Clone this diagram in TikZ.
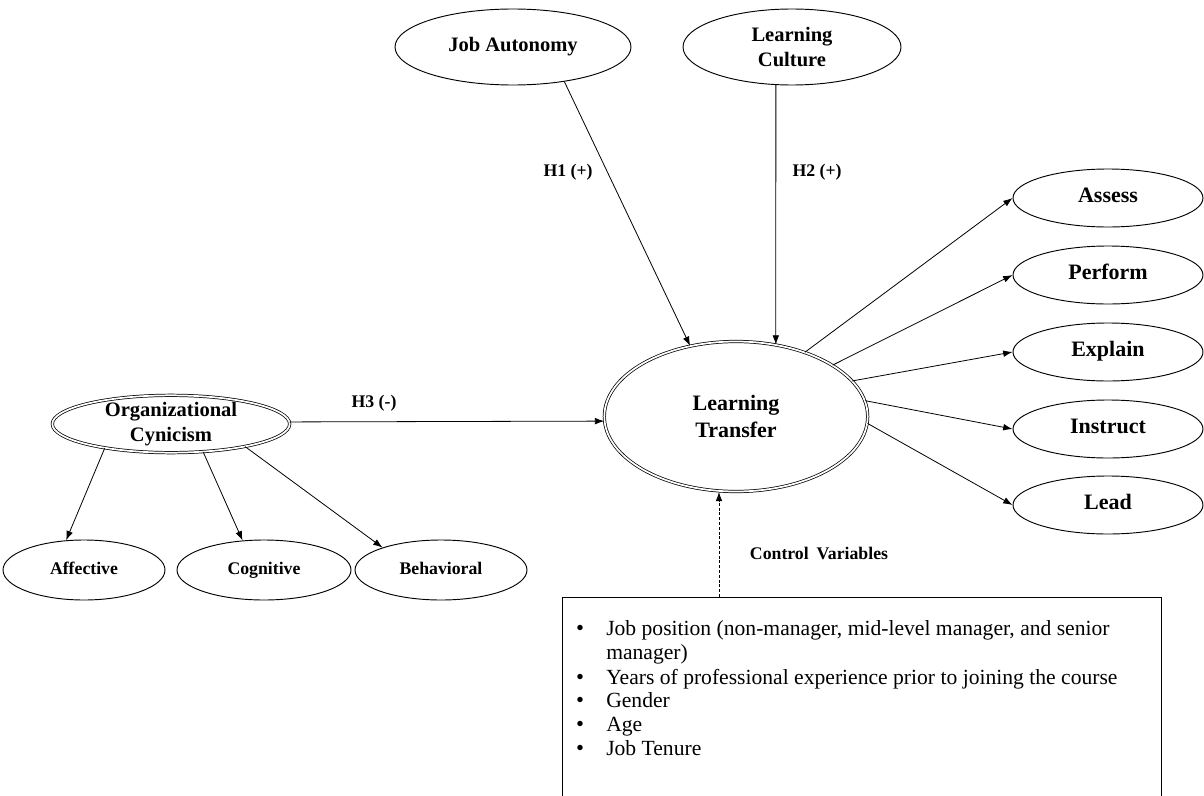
\documentclass[tikz,border=0pt]{standalone}
\usepackage{fontspec}
\setmainfont{Liberation Serif}
\usetikzlibrary{shapes.geometric,arrows.meta}
\begin{document}
\begin{tikzpicture}[x=0.75pt,y=-0.75pt,
  ell/.style={draw, ellipse, inner sep=0pt, line width=0.7pt, align=center},
  dbl/.style={draw, ellipse, inner sep=0pt, double, double distance=1.3pt, line width=0.55pt, align=center},
  conn/.style={-{Latex[length=7pt,width=5pt]}, line width=0.6pt},
  hlbl/.style={font=\bfseries\fontsize{13.3}{16}\selectfont, inner sep=0pt},
  bigtxt/.style={font=\bfseries\fontsize{16.5}{20.25}\selectfont},
  midtxt/.style={font=\bfseries\fontsize{15.4}{18.5}\selectfont},
  smalltxt/.style={font=\bfseries\fontsize{13.3}{16}\selectfont},
  oneline/.style={text height=0.66em, text depth=0pt},
  bullettxt/.style={font=\fontsize{16.2}{18}\selectfont, inner sep=0pt, anchor=base west},
  bulletdot/.style={font=\fontsize{17}{18}\selectfont, inner sep=0pt, anchor=base},
]
\useasboundingbox (0,0) rectangle (1204,796);
\fill[white] (0,0) rectangle (1204,796);

% top constructs
\node[ell, midtxt, oneline, minimum width=177pt, minimum height=57pt] (ja) at (513,47) {Job Autonomy};
\node[ell, midtxt, minimum width=163.5pt, minimum height=57pt] (lc) at (792,47) {Learning\\Culture};

% central construct
\node[dbl, bigtxt, minimum width=197.5pt, minimum height=112.5pt] (lt) at (736,416.5) {Learning\\[0.5pt]Transfer};

% organizational cynicism and dimensions
\node[dbl, midtxt, inner ysep=-2pt, minimum width=178pt, minimum height=43pt] (oc) at (171,424) {Organizational\\Cynicism};
\node[ell, smalltxt, oneline, minimum width=121.5pt, minimum height=45pt] (aff) at (84,570) {Affective};
\node[ell, smalltxt, oneline, minimum width=130.5pt, minimum height=45pt] (cog) at (264,570) {Cognitive};
\node[ell, smalltxt, oneline, minimum width=129pt, minimum height=45pt] (beh) at (441,570) {Behavioral};

% outcome dimensions
\node[ell, bigtxt, oneline, minimum width=142.5pt, minimum height=43.5pt] (assess) at (1108,198) {Assess};
\node[ell, bigtxt, oneline, minimum width=142.5pt, minimum height=43.5pt] (perform) at (1108,275) {Perform};
\node[ell, bigtxt, oneline, minimum width=142.5pt, minimum height=43.5pt] (explain) at (1108,352) {Explain};
\node[ell, bigtxt, oneline, minimum width=142.5pt, minimum height=43.5pt] (instruct) at (1108,429) {Instruct};
\node[ell, bigtxt, oneline, minimum width=142.5pt, minimum height=43.5pt] (lead) at (1108,505) {Lead};

% labels
\node[hlbl] (h1) at (568,172) {H1 (+)};
\node[hlbl] (h2) at (817,172) {H2 (+)};
\node[hlbl] (h3) at (374,403) {H3 (-)};
\node[hlbl] (cvl) at (819,553) {Control\hspace{0.45em}Variables};

% control variables box
\node[draw, line width=0.7pt, rectangle, inner sep=0pt, anchor=north west,
      minimum width=449.25pt, minimum height=180pt] (box) at (562,597) {};
\node[bulletdot] (d1) at (580,635) {\textbullet};
\node[bullettxt] (t1) at (606,635) {Job position (non-manager, mid-level manager, and senior};
\node[bullettxt] (t1b) at (606,659) {manager)};
\node[bulletdot] (d2) at (580,684) {\textbullet};
\node[bullettxt] (t2) at (606,684) {Years of professional experience prior to joining the course};
\node[bulletdot] (d3) at (580,707.5) {\textbullet};
\node[bullettxt] (t3) at (606,707.5) {Gender};
\node[bulletdot] (d4) at (580,731.5) {\textbullet};
\node[bullettxt] (t4) at (606,731.5) {Age};
\node[bulletdot] (d5) at (580,755.5) {\textbullet};
\node[bullettxt] (t5) at (606,755.5) {Job Tenure};

% connectors
\draw[conn] (ja.-34.7) -- (lt.123.3);
\draw[conn] (lc.-113.06) -- (lt.61.26);
\draw[conn] (oc.1) -- (lt.182);
\draw[conn] (oc.200) -- (aff.121);
\draw[conn] (oc.-41.4) -- (cog.126);
\draw[conn] (oc.-17) -- (beh.159.5);
\draw[conn] (lt.43.9) -- (assess.west);
\draw[conn] (lt.28.8) -- (perform.west);
\draw[conn] (lt.17.7) -- (explain.west);
\draw[conn] (lt.7.9) -- (instruct.west);
\draw[conn] (lt.-3) -- (lead.west);
\coordinate (cvtop) at (719,597);
\draw[conn, dash pattern=on 2.2pt off 1.4pt] (cvtop) -- (lt.south -| cvtop);
\end{tikzpicture}
\end{document}
